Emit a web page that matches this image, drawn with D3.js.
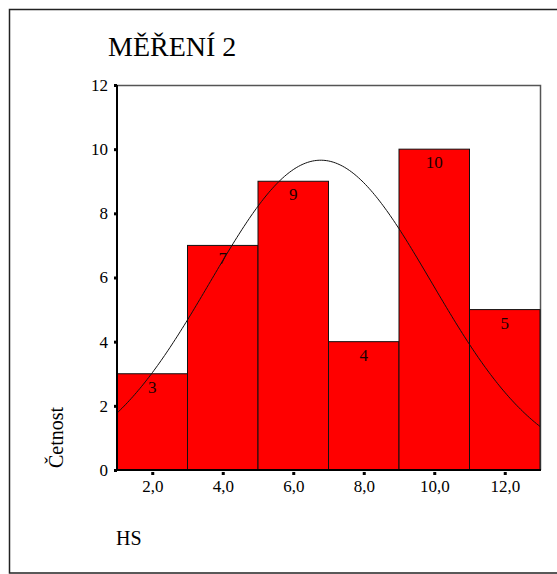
<!DOCTYPE html>
<html>
<head>
<meta charset="utf-8">
<script src="https://cdn.jsdelivr.net/npm/d3@7"></script>
<style>
  html, body { margin: 0; padding: 0; background: #fff; }
  svg { display: block; }
</style>
</head>
<body>
<svg id="chart" width="557" height="574"></svg>
<script>
// Histogram of HS: bin centres and counts
const binCenters = [2, 4, 6, 8, 10, 12];
const counts = [3, 7, 9, 4, 10, 5];
const binWidth = 2;
const yTicks = [0, 2, 4, 6, 8, 10, 12];
const xTicks = [2, 4, 6, 8, 10, 12];
// Fitted normal curve parameters
const curveMean = 6.78;
const curveSd = 3.14;

const title = "MĚŘENÍ 2";
const xLabel = "HS";
const yLabel = "Četnost";

const FONT = "Liberation Serif";
const svg = d3.select("#chart");
const W = 557;

const plot = { left: 117, right: 540, top: 85, bottom: 470 };

const x = d3.scaleLinear().domain([1, 13]).range([plot.left, plot.right]);
const y = d3.scaleLinear().domain([0, 12]).range([plot.bottom, plot.top]);

// outer frame
svg.append("rect")
  .attr("x", 9.5).attr("y", 9.5)
  .attr("width", W + 20).attr("height", 563.5)
  .attr("fill", "none").attr("stroke", "#222").attr("stroke-width", 1.5);

// title
svg.append("text")
  .attr("x", 108).attr("y", 56)
  .style("font-family", FONT).style("font-size", "28px")
  .text(title);

// plot frame (top and right)
svg.append("path")
  .attr("d", `M${plot.left},${plot.top + 0.5}H${plot.right + 0.5}V${plot.bottom}`)
  .attr("fill", "none").attr("stroke", "#555").attr("stroke-width", 1.5);

// bars
const bins = binCenters.map((c, i) => ({ c, n: counts[i] }));
svg.append("g").selectAll("rect")
  .data(bins)
  .join("rect")
  .attr("x", d => x(d.c - binWidth / 2))
  .attr("y", d => y(d.n))
  .attr("width", d => x(d.c + binWidth / 2) - x(d.c - binWidth / 2))
  .attr("height", d => y(0) - y(d.n))
  .attr("fill", "#ff0000")
  .attr("stroke", "#111")
  .attr("stroke-width", 1);

// count labels inside bars
svg.append("g").selectAll("text")
  .data(bins)
  .join("text")
  .attr("x", d => x(d.c))
  .attr("y", d => y(d.n) + 19)
  .attr("text-anchor", "middle")
  .style("font-family", FONT).style("font-size", "17px")
  .style("fill", "#1a0000")
  .text(d => d.n);

// normal curve scaled to counts
const total = d3.sum(counts);
const pdf = v => Math.exp(-0.5 * ((v - curveMean) / curveSd) ** 2) / (curveSd * Math.sqrt(2 * Math.PI));
const curvePts = d3.range(1, 13.001, 0.05).map(v => [v, total * binWidth * pdf(v)]);
svg.append("path")
  .datum(curvePts)
  .attr("d", d3.line().x(d => x(d[0])).y(d => y(d[1])))
  .attr("fill", "none").attr("stroke", "#111").attr("stroke-width", 1);

// y axis
const yAxis = svg.append("g")
  .attr("transform", `translate(${plot.left},0)`)
  .call(d3.axisLeft(y).tickValues(yTicks).tickSize(3).tickPadding(6).tickFormat(d3.format("d")));
yAxis.select(".domain").attr("stroke", "#000").attr("stroke-width", 2)
  .attr("d", `M0,${plot.top}V${plot.bottom + 1}`);
yAxis.selectAll(".tick line").attr("stroke", "#000").attr("stroke-width", 3);
yAxis.selectAll(".tick text").style("font-family", FONT).style("font-size", "17px");

// x axis
const fmt = d => d3.format(".1f")(d).replace(".", ",");
const xAxis = svg.append("g")
  .attr("transform", `translate(0,${plot.bottom})`)
  .call(d3.axisBottom(x).tickValues(xTicks).tickSize(0).tickPadding(10).tickFormat(fmt));
xAxis.select(".domain").attr("stroke", "#000").attr("stroke-width", 2)
  .attr("d", `M${plot.left - 1},0H${plot.right + 1}`);
xAxis.selectAll(".tick").append("rect")
  .attr("x", -1.5).attr("y", 2).attr("width", 3).attr("height", 3).attr("fill", "#000");
xAxis.selectAll(".tick text").style("font-family", FONT).style("font-size", "17px");

// axis titles
svg.append("text")
  .attr("x", 116).attr("y", 545)
  .style("font-family", FONT).style("font-size", "20px")
  .text(xLabel);

svg.append("text")
  .attr("transform", `translate(63,468) rotate(-90)`)
  .style("font-family", FONT).style("font-size", "20px")
  .text(yLabel);
</script>
</body>
</html>
